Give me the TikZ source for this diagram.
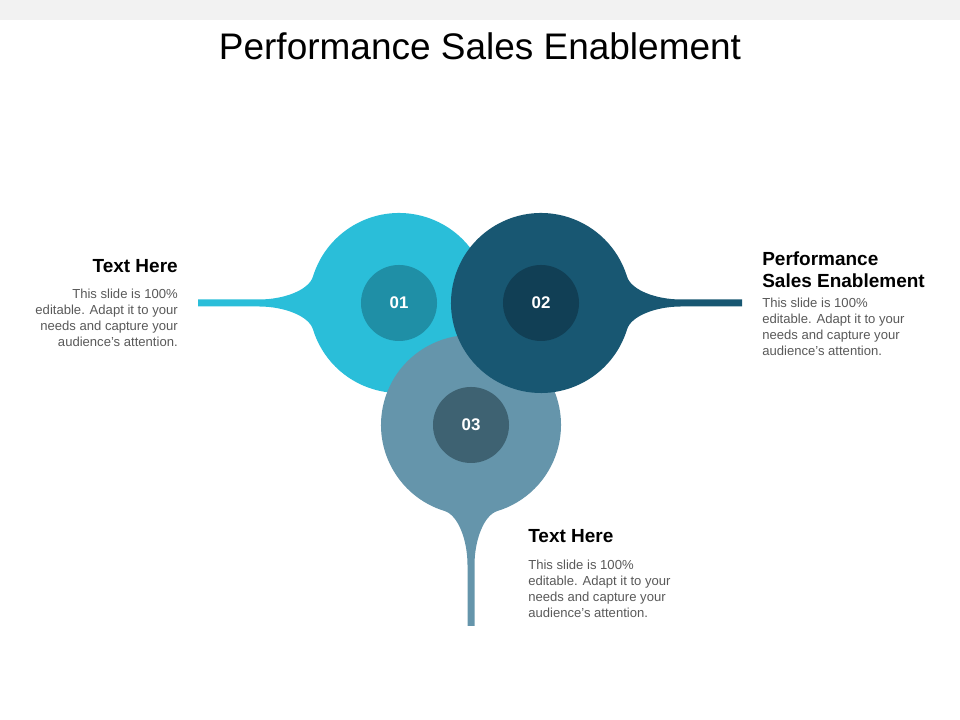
\documentclass[tikz,border=0pt]{standalone}
\usepackage{fontspec}
\setmainfont{Liberation Sans}
\usetikzlibrary{shapes}
\definecolor{dropcyan}{HTML}{2ABED9}
\definecolor{dropcyanin}{HTML}{1F8FA6}
\definecolor{dropdark}{HTML}{185772}
\definecolor{dropdarkin}{HTML}{113F55}
\definecolor{dropgray}{HTML}{6595AB}
\definecolor{dropgrayin}{HTML}{3E6272}
\definecolor{bodygray}{HTML}{595959}
\definecolor{bandgray}{HTML}{F2F2F2}
\tikzset{
  numcircle/.style={circle, minimum size=1.9cm, inner sep=0pt, text=white,
    font=\fontsize{12}{14}\selectfont\bfseries},
  headtext/.style={inner sep=0pt, font=\fontsize{13.5}{15.6}\selectfont\bfseries},
  bodytext/.style={inner sep=0pt, text=bodygray, font=\fontsize{9.3}{11.4}\selectfont},
}
\begin{document}
\begin{tikzpicture}[x=0.025cm, y=0.025cm]
        \useasboundingbox (0,0) rectangle (960,720);
        %Band + Title
        \fill [bandgray] (0,700) rectangle (960,720);
        \node (title) [anchor=base, inner sep=0pt, font=\fontsize{26.3}{32}\selectfont] at (480,660) {Performance Sales Enablement};
        %Drops (cyan, gray, dark)
        \foreach \cx/\cy/\ang/\col in {399/417/0/dropcyan, 471/295/90/dropgray, 541/417/180/dropdark}{
          \fill [\col, shift={(\cx,\cy)}, rotate=\ang] (-201,3.5) -- (-140,3.5) .. controls (-115,3.5) and (-90.2,12.9) .. (163:90)
            arc [start angle=163, end angle=-163, radius=90] .. controls (-90.2,-12.9) and (-115,-3.5) .. (-140,-3.5) -- (-201,-3.5) -- cycle;
        }
        %Cercles
        \node (n1) [numcircle, fill=dropcyanin] at (399,417) {01};
        \node (n2) [numcircle, fill=dropdarkin] at (541,417) {02};
        \node (n3) [numcircle, fill=dropgrayin] at (471,295) {03};
        %Textes (base = last line)
        \node (head1) [headtext, anchor=base east] at (178,447) {Text Here};
        \node (body1) [bodytext, anchor=base east, align=right] at (178,373) {This slide is 100\%\\editable. Adapt it to your\\needs and capture your\\audience's attention.};
        \node (head2) [headtext, anchor=base west, align=left] at (762,432.5) {Performance\\Sales Enablement};
        \node (body2) [bodytext, anchor=base west, align=left] at (762,364) {This slide is 100\%\\editable. Adapt it to your\\needs and capture your\\audience's attention.};
        \node (head3) [headtext, anchor=base west] at (528,177.5) {Text Here};
        \node (body3) [bodytext, anchor=base west, align=left] at (528,102) {This slide is 100\%\\editable. Adapt it to your\\needs and capture your\\audience's attention.};
\end{tikzpicture}
\end{document}
